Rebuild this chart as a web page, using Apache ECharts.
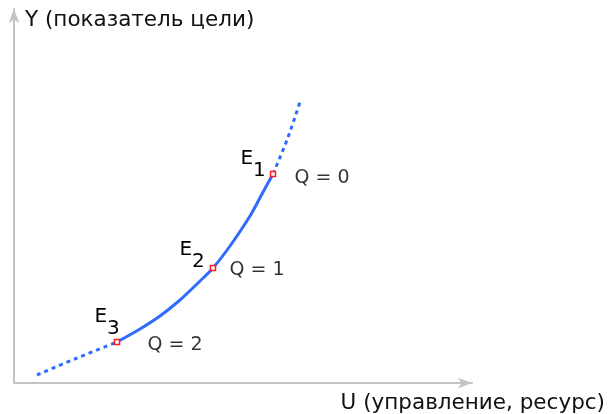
<!DOCTYPE html>
<html>
<head>
<meta charset="utf-8">
<script src="https://cdn.jsdelivr.net/npm/echarts@6/dist/echarts.min.js"></script>
<style>
    html, body { margin: 0; padding: 0; background: #fff; }
    #chart { width: 613px; height: 414px; }
</style>
</head>
<body>
<div id="chart"></div>
<script>
    // curve, [U, Y]
    var curveLow = [[23, 8], [63, 25], [103, 41]];
    var curveMain = [[103, 41], [126, 54], [146, 67], [166, 83], [186, 102], [199, 115],
        [216, 137], [236, 167], [248, 189], [259, 209]];
    var curveHigh = [[259, 209], [273, 243], [286, 281]];

    // equilibrium points
    var pointNames = ['E1', 'E2', 'E3'];
    var pointSubs = ['1', '2', '3'];
    var pointValues = [[259, 209], [199, 115], [103, 41]];
    var qLabels = ['Q = 0', 'Q = 1', 'Q = 2'];

    var xName = 'U (управление, ресурс)';
    var yName = 'Y (показатель цели)';

    // label placement (style only)
    var eOffsets = [[-4, -9], [-5, -12], [6, -19]];
    var qOffsets = [[19, 4], [14, 2], [28, 3]];

    var blue = '#2f6bff';
    var axisGray = '#c4c4c4';
    var font = 'DejaVu Sans';

    var chart = echarts.init(document.getElementById('chart'));

    var option = {
        animation: false,
        grid: { left: 14, right: 141, top: 9, bottom: 31 },
        xAxis: {
            type: 'value', min: 0, max: 458,
            axisLine: { show: true, lineStyle: { color: axisGray, width: 2 },
                symbol: ['none', 'arrow'], symbolSize: [8, 14] },
            axisTick: { show: false }, axisLabel: { show: false }, splitLine: { show: false },
            name: xName, nameLocation: 'end', nameGap: 133,
            nameTextStyle: { fontFamily: font, fontSize: 21.5, color: '#111',
                align: 'right', verticalAlign: 'top', padding: [9, 0, 0, 0] }
        },
        yAxis: {
            type: 'value', min: 0, max: 374,
            axisLine: { show: true, lineStyle: { color: axisGray, width: 2 },
                symbol: ['none', 'arrow'], symbolSize: [8, 14] },
            axisTick: { show: false }, axisLabel: { show: false }, splitLine: { show: false },
            name: yName, nameLocation: 'end', nameGap: -11,
            nameTextStyle: { fontFamily: font, fontSize: 21.5, color: '#111',
                align: 'left', verticalAlign: 'middle', padding: [0, 0, 0, 11] }
        },
        series: [
            {
                type: 'line', data: curveLow, smooth: 0.3, showSymbol: false,
                lineStyle: { color: blue, width: 3, type: [4, 4] }
            },
            {
                type: 'line', data: curveMain, smooth: 0.3, showSymbol: false,
                lineStyle: { color: blue, width: 3 }
            },
            {
                type: 'line', data: curveHigh, smooth: 0.3, showSymbol: false,
                lineStyle: { color: blue, width: 3, type: [4, 4] }
            },
            {
                type: 'scatter', symbol: 'rect', symbolSize: 5, z: 5,
                itemStyle: { color: '#fff', borderColor: '#ff1a1a', borderWidth: 1.5, opacity: 1 },
                label: {
                    show: true, position: 'left', distance: 0,
                    formatter: function (p) { return '{e|E}{s|' + pointSubs[p.dataIndex] + '}'; },
                    rich: {
                        e: { fontFamily: font, fontSize: 20, color: '#000', lineHeight: 32, verticalAlign: 'top' },
                        s: { fontFamily: font, fontSize: 20, color: '#000', lineHeight: 32, verticalAlign: 'bottom' }
                    }
                },
                data: pointValues.map(function (v, i) {
                    return { name: pointNames[i], value: v, label: { offset: eOffsets[i] } };
                })
            },
            {
                type: 'scatter', symbol: 'rect', symbolSize: 5, z: 4,
                itemStyle: { color: 'rgba(0,0,0,0)' },
                label: {
                    show: true, position: 'right', distance: 0,
                    formatter: function (p) { return qLabels[p.dataIndex]; },
                    fontFamily: font, fontSize: 19, color: '#000'
                },
                data: pointValues.map(function (v, i) {
                    return { name: qLabels[i], value: v, label: { offset: qOffsets[i] } };
                })
            }
        ]
    };

    chart.setOption(option);
</script>
</body>
</html>
